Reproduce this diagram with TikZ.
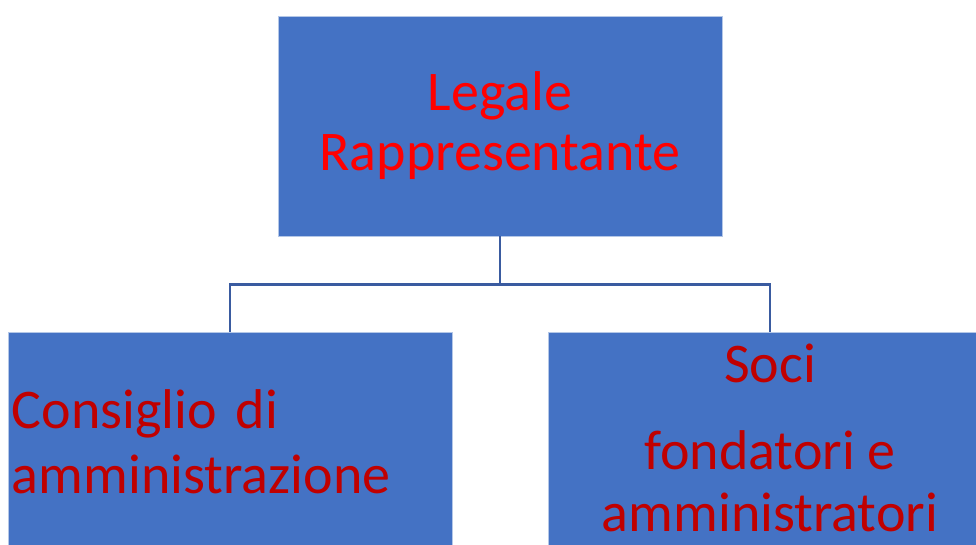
\documentclass[tikz,border=0pt]{standalone}
\usepackage{fontspec}
\setmainfont{Carlito}
\definecolor{boxblue}{HTML}{4472C4}
\definecolor{linkblue}{HTML}{3A5BA0}
\definecolor{edgeblue}{HTML}{B4C7E7}
\definecolor{dr}{HTML}{C00000}
\tikzset{
orgbox/.style={rectangle,fill=boxblue,draw=edgeblue,line width=0.8pt,minimum width=444pt,minimum height=220pt,inner sep=4pt},
link/.style={draw=linkblue,line width=2.5pt}
}

\begin{document}
\begin{tikzpicture}[x=1pt,y=-1pt]
\useasboundingbox (0,0) rectangle (976,545);
\clip (0,0) rectangle (976,545);
\node[orgbox,text=red,align=center,font=\fontsize{56}{60}\selectfont] (legale) at (500,126) {Legale\\Rappresentante};
\node[orgbox,text=dr,align=left,text width=436pt,font=\fontsize{56}{65}\selectfont] (consiglio) at (230,442) {Consiglio di\\amministrazione};
\node[orgbox] (soci) at (770,442) {};
\node[text=dr,align=center,inner sep=0pt,font=\fontsize{56}{62}\selectfont] (socitext) at ([yshift=4pt]soci.center) {Soci\\[25pt]fondatori e\\amministratori};
\draw[link] (legale.south) -- ++(0,48) coordinate (fork) -| (consiglio.north);
\draw[link] (fork) -| (soci.north);
\end{tikzpicture}
\end{document}
